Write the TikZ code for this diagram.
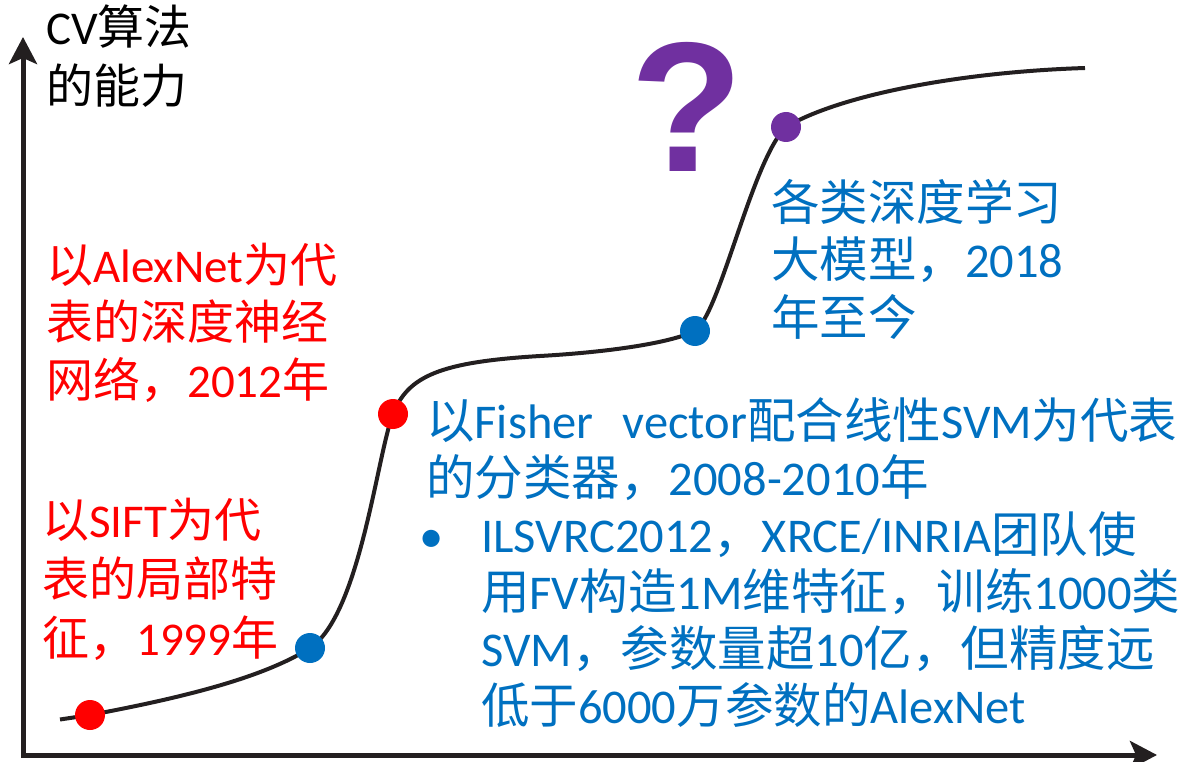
\documentclass[tikz,border=0pt]{standalone}
\usepackage{fontspec}
\setmainfont{Carlito}
\newfontfamily\cjk{Noto Sans CJK SC}
\newfontfamily\qfont{Liberation Sans}
\usetikzlibrary{arrows.meta}
\definecolor{cvred}{HTML}{FF0000}
\definecolor{cvblue}{HTML}{0070C0}
\definecolor{cvpurple}{HTML}{7030A0}
\definecolor{cvblack}{HTML}{231F20}
\newcommand\zh[1]{{\cjk #1}}
\begin{document}
\begin{tikzpicture}[x=1pt,y=-1pt,
  lbl/.style={anchor=base west, inner sep=0pt, font=\fontsize{47}{57}\selectfont},
  bluelbl/.style={lbl, text=cvblue, font=\fontsize{48.5}{57}\selectfont},
  dotnode/.style={circle, inner sep=0pt, minimum size=30pt, draw=none},
  axisline/.style={line width=5pt, draw=cvblack, line join=miter,
    {Stealth[length=27pt,width=28pt,inset=6pt]}-{Stealth[length=27pt,width=28pt,inset=6pt]}},
  curveline/.style={line width=4pt, draw=cvblack}]
\useasboundingbox (0,0) rectangle (1179,762);

% axes
\coordinate (ytip) at (23,37);
\coordinate (origin) at (23,755);
\coordinate (xtip) at (1157,755);
\draw[axisline] (ytip) -- (origin) -- (xtip);

% curve points
\coordinate (A) at (60,719.5);
\coordinate (B) at (90,715);
\coordinate (C) at (310,648);
\coordinate (D) at (393,414);
\coordinate (M) at (540,356);
\coordinate (E) at (695,331);
\coordinate (F) at (786,127);
\coordinate (G) at (1085,68);
\draw[curveline] (A) -- (B) .. controls (170,700) and (260,680) .. (C)
  .. controls (360,615) and (377,455) .. (D)
  .. controls (408,376) and (440,362) .. (M)
  .. controls (610,352) and (670,343) .. (E)
  .. controls (720,314) and (752,160) .. (F)
  .. controls (840,95) and (960,72) .. (G);

\node[dotnode, fill=cvred] (d1) at (B) {};
\node[dotnode, fill=cvblue] (d2) at (C) {};
\node[dotnode, fill=cvred] (d3) at (D) {};
\node[dotnode, fill=cvblue] (d4) at (E) {};
\node[dotnode, fill=cvpurple] (d5) at (F) {};

% question mark
\node[anchor=base, inner sep=0pt, text=cvpurple, font=\qfont\bfseries\fontsize{185}{185}\selectfont] (q) at (687,172) {?};

% y label
\node[lbl, text=black] (yl1) at (46,45) {CV\zh{算法}};
\node[lbl, text=black] (yl2) at (46,104) {\zh{的能力}};

% AlexNet text
\node[lbl, text=cvred] (a1) at (46,283) {\zh{以}AlexNet\zh{为代}};
\node[lbl, text=cvred] (a2) at (46,340) {\zh{表的深度神经}};
\node[lbl, text=cvred] (a3) at (46,397) {\zh{网络，}2012\zh{年}};

% SIFT text
\node[lbl, text=cvred] (s1) at (42,537) {\zh{以}SIFT\zh{为代}};
\node[lbl, text=cvred] (s2) at (42,596) {\zh{表的局部特}};
\node[lbl, text=cvred] (s3) at (42,655) {\zh{征，}1999\zh{年}};

% Fisher text
\node[bluelbl] (f1) at (426,438) {\zh{以}Fisher\hspace{0.6em}vector\zh{配合线性}SVM\zh{为代表}};
\node[bluelbl] (f2) at (426,495) {\zh{的分类器，}2008-2010\zh{年}};

% bullet
\node[bluelbl, anchor=base] (bul) at (432,552) {•};
\node[bluelbl] (b1) at (481,552) {ILSVRC2012\zh{，}XRCE/INRIA\zh{团队使}};
\node[bluelbl] (b2) at (481,609) {\zh{用}FV\zh{构造}1M\zh{维特征，训练}1000\zh{类}};
\node[bluelbl] (b3) at (481,666) {SVM\zh{，参数量超}10\zh{亿，但精度远}};
\node[bluelbl] (b4) at (481,723) {\zh{低于}6000\zh{万参数的}AlexNet};

% deep learning text
\node[bluelbl] (t1) at (771,221) {\zh{各类深度学习}};
\node[bluelbl] (t2) at (771,278) {\zh{大模型，}2018};
\node[bluelbl] (t3) at (771,335) {\zh{年至今}};
\end{tikzpicture}
\end{document}
